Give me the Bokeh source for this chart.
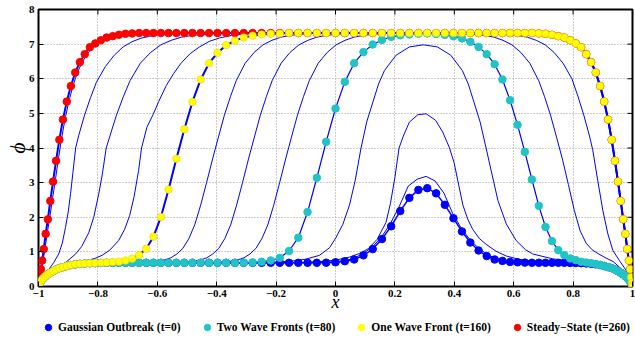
from bokeh.plotting import figure
from bokeh.layouts import column
from bokeh.models import Range1d, FixedTicker, Legend, LegendItem
from bokeh.embed import file_html
from bokeh.resources import INLINE

# ---------------- data ----------------
X_TICKS = [-1, -0.8, -0.6, -0.4, -0.2, 0, 0.2, 0.4, 0.6, 0.8, 1]
X_TICK_LABELS = ["\u22121", "\u22120.8", "\u22120.6", "\u22120.4", "\u22120.2", "0",
                 "0.2", "0.4", "0.6", "0.8", "1"]
Y_TICKS = [0, 1, 2, 3, 4, 5, 6, 7, 8]

# collocation nodes (marker positions)
X_NODES = [-1.0, -0.9995, -0.998, -0.9956, -0.9921, -0.9877, -0.9823, -0.9759, -0.9686, -0.9603,
           -0.9511, -0.9409, -0.9298, -0.9178, -0.9048, -0.891, -0.8763, -0.8607, -0.8443, -0.8271,
           -0.809, -0.7902, -0.7705, -0.7501, -0.729, -0.7071, -0.6846, -0.6613, -0.6374, -0.6129,
           -0.5878, -0.5621, -0.5358, -0.509, -0.4818, -0.454, -0.4258, -0.3972, -0.3681, -0.3387,
           -0.309, -0.279, -0.2487, -0.2181, -0.1874, -0.1564, -0.1253, -0.0941, -0.0628, -0.0314,
           0.0,
           0.0314, 0.0628, 0.0941, 0.1253, 0.1564, 0.1874, 0.2181, 0.2487, 0.279, 0.309,
           0.3387, 0.3681, 0.3972, 0.4258, 0.454, 0.4818, 0.509, 0.5358, 0.5621, 0.5878,
           0.6129, 0.6374, 0.6613, 0.6846, 0.7071, 0.729, 0.7501, 0.7705, 0.7902, 0.809,
           0.8271, 0.8443, 0.8607, 0.8763, 0.891, 0.9048, 0.9178, 0.9298, 0.9409, 0.9511,
           0.9603, 0.9686, 0.9759, 0.9823, 0.9877, 0.9921, 0.9956, 0.998, 0.9995, 1.0]

PHI_T0 = [0, 0.03, 0.07, 0.10, 0.15, 0.20, 0.25, 0.30, 0.35, 0.40,
          0.44, 0.49, 0.53, 0.56, 0.59, 0.62, 0.64, 0.655, 0.665, 0.672,
          0.677, 0.68, 0.685, 0.685, 0.685, 0.685, 0.685, 0.685, 0.685, 0.685,
          0.685, 0.685, 0.685, 0.685, 0.685, 0.685, 0.685, 0.685, 0.685, 0.685,
          0.685, 0.685, 0.685, 0.685, 0.685, 0.685, 0.685, 0.685, 0.685, 0.687,
          0.70,
          0.73, 0.78, 0.90, 1.08, 1.37, 1.74, 2.18, 2.56, 2.79, 2.84,
          2.69, 2.36, 1.97, 1.59, 1.27, 1.04, 0.88, 0.78, 0.74, 0.71,
          0.70, 0.69, 0.685, 0.685, 0.685, 0.685, 0.685, 0.685, 0.68, 0.677,
          0.672, 0.665, 0.655, 0.64, 0.62, 0.59, 0.56, 0.53, 0.49, 0.44,
          0.40, 0.35, 0.30, 0.25, 0.20, 0.15, 0.10, 0.07, 0.03, 0]

PHI_T80 = [0, 0.03, 0.07, 0.10, 0.15, 0.20, 0.25, 0.30, 0.35, 0.40,
           0.44, 0.49, 0.53, 0.56, 0.59, 0.62, 0.64, 0.655, 0.665, 0.672,
           0.677, 0.68, 0.685, 0.685, 0.685, 0.685, 0.685, 0.685, 0.685, 0.685,
           0.685, 0.685, 0.685, 0.685, 0.685, 0.685, 0.685, 0.685, 0.685, 0.685,
           0.687, 0.695, 0.713, 0.752, 0.829, 1.025, 1.41, 2.15, 3.14, 4.18,
           5.14,
           5.91, 6.45, 6.77, 6.99, 7.12, 7.21, 7.255, 7.28, 7.30, 7.31,
           7.295, 7.267, 7.228, 7.165, 7.067, 6.92, 6.71, 6.42, 5.98, 5.38,
           4.67, 3.89, 3.09, 2.33, 1.72, 1.31, 1.05, 0.905, 0.81, 0.762,
           0.716, 0.694, 0.674, 0.65, 0.625, 0.595, 0.56, 0.53, 0.49, 0.44,
           0.40, 0.35, 0.30, 0.25, 0.20, 0.15, 0.10, 0.07, 0.03, 0]

PHI_T160 = [0, 0.03, 0.07, 0.10, 0.15, 0.20, 0.25, 0.30, 0.35, 0.40,
            0.44, 0.49, 0.53, 0.56, 0.59, 0.62, 0.64, 0.655, 0.665, 0.675,
            0.68, 0.685, 0.693, 0.706, 0.718, 0.752, 0.805, 0.911, 1.09, 1.44,
            2.01, 2.80, 3.69, 4.54, 5.33, 5.98, 6.45, 6.75, 6.97, 7.10,
            7.19, 7.245, 7.28, 7.30, 7.31, 7.32, 7.32, 7.32, 7.32, 7.32,
            7.32,
            7.32, 7.32, 7.32, 7.32, 7.32, 7.32, 7.32, 7.32, 7.32, 7.32,
            7.32, 7.32, 7.32, 7.32, 7.32, 7.32, 7.32, 7.32, 7.32, 7.32,
            7.32, 7.32, 7.32, 7.31, 7.30, 7.27, 7.23, 7.19, 7.11, 7.02,
            6.91, 6.71, 6.48, 6.18, 5.79, 5.34, 4.82, 4.24, 3.63, 3.03,
            2.47, 1.94, 1.52, 1.08, 0.75, 0.5, 0.27, 0.1, 0.03, 0]

PHI_T260 = [0, 0.03, 0.1, 0.27, 0.5, 0.75, 1.08, 1.52, 1.94, 2.47,
            3.03, 3.63, 4.24, 4.82, 5.34, 5.79, 6.18, 6.48, 6.71, 6.91,
            7.02, 7.11, 7.19, 7.23, 7.27, 7.30, 7.31, 7.32, 7.32, 7.32,
            7.32, 7.32, 7.32, 7.32, 7.32, 7.32, 7.32, 7.32, 7.32, 7.32,
            7.32, 7.32, 7.32, 7.32, 7.32, 7.32, 7.32, 7.32, 7.32, 7.32,
            7.32,
            7.32, 7.32, 7.32, 7.32, 7.32, 7.32, 7.32, 7.32, 7.32, 7.32,
            7.32, 7.32, 7.32, 7.32, 7.32, 7.32, 7.32, 7.32, 7.32, 7.32,
            7.32, 7.32, 7.32, 7.31, 7.30, 7.27, 7.23, 7.19, 7.11, 7.02,
            6.91, 6.71, 6.48, 6.18, 5.79, 5.34, 4.82, 4.24, 3.63, 3.03,
            2.47, 1.94, 1.52, 1.08, 0.75, 0.5, 0.27, 0.1, 0.03, 0]

# shared pieces of the intermediate-time curves
LEFT_BASE_X = [-1.0, -0.995, -0.988, -0.976, -0.96, -0.94, -0.91, -0.87, -0.82, -0.75]
LEFT_BASE_Y = [0, 0.11, 0.2, 0.3, 0.4, 0.49, 0.58, 0.645, 0.674, 0.685]
RIGHT_BASE_X = [0.75, 0.82, 0.87, 0.91, 0.94, 0.96, 0.976, 0.988, 0.995, 1.0]
RIGHT_BASE_Y = [0.685, 0.674, 0.645, 0.58, 0.49, 0.4, 0.3, 0.2, 0.11, 0]
RIGHT_STEADY_X = [0.66, 0.7071, 0.729, 0.7501, 0.7705, 0.7902, 0.809, 0.8271, 0.8443, 0.8607,
                  0.8763, 0.891, 0.9048, 0.9178, 0.9298, 0.9409, 0.9511, 0.9603, 0.9686, 0.9759,
                  0.9823, 0.9877, 0.9921, 0.9956, 0.998, 1.0]
RIGHT_STEADY_Y = [7.32, 7.30, 7.27, 7.23, 7.19, 7.11, 7.02, 6.91, 6.71, 6.48,
                  6.18, 5.79, 5.34, 4.82, 4.24, 3.63, 3.03, 2.47, 1.94, 1.52,
                  1.08, 0.75, 0.5, 0.27, 0.1, 0]

T20_X = [-0.3, -0.1, 0.0, 0.05, 0.09, 0.125, 0.155, 0.185, 0.215, 0.245, 0.275,
         0.305, 0.335, 0.365, 0.395, 0.425, 0.455, 0.485, 0.52, 0.56, 0.6, 0.7]
T20_Y = [0.685, 0.686, 0.71, 0.78, 0.93, 1.15, 1.43, 1.82, 2.32, 2.9, 3.1,
         3.18, 3.05, 2.7, 2.1, 1.66, 1.33, 1.08, 0.88, 0.77, 0.72, 0.69]

T40_X = [-0.4, -0.15, -0.05, 0.0, 0.047, 0.08, 0.11, 0.14, 0.17, 0.185, 0.2, 0.214, 0.23, 0.249,
         0.277, 0.305, 0.337, 0.361, 0.384, 0.4, 0.412, 0.429, 0.445, 0.462, 0.485, 0.507, 0.54,
         0.575, 0.62, 0.67]
T40_Y = [0.685, 0.69, 0.72, 0.76, 0.85, 0.95, 1.09, 1.36, 1.85, 2.4, 3.15, 4.0, 4.38, 4.75,
         4.96, 4.99, 4.8, 4.46, 4.0, 3.55, 3.05, 2.35, 1.95, 1.65, 1.38, 1.22, 1.02,
         0.88, 0.78, 0.73]

T60_X = [-0.45, -0.25, -0.15, -0.1, -0.054, -0.02, 0.002, 0.025, 0.047, 0.066, 0.086, 0.105,
         0.126, 0.145, 0.165, 0.204, 0.249, 0.296, 0.343, 0.388, 0.427, 0.447, 0.466, 0.487,
         0.507, 0.524, 0.547, 0.575, 0.608, 0.64, 0.664, 0.731, 0.8, 0.85, 0.89, 0.92, 0.945,
         0.965, 0.98, 0.99, 0.996, 1.0]
T60_Y = [0.685, 0.69, 0.73, 0.79, 0.9, 1.12, 1.42, 1.8, 2.35, 3.05, 4.0, 4.75,
         5.33, 5.85, 6.24, 6.68, 6.92, 6.98, 6.92, 6.68, 6.24, 5.85, 5.33, 4.75,
         4.0, 3.35, 2.48, 1.81, 1.33, 1.06, 0.94, 0.8, 0.72, 0.665, 0.615, 0.57, 0.48,
         0.38, 0.28, 0.18, 0.1, 0]

T100_X = [-0.55, -0.408, -0.358, -0.328, -0.308, -0.288, -0.268, -0.248, -0.228, -0.208,
          -0.188, -0.168, -0.148, -0.128, -0.108, -0.088, -0.058, -0.028, 0.002, 0.032,
          0.062, 0.092, 0.122, 0.152, 0.192, 0.404, 0.444, 0.474, 0.504, 0.534,
          0.564, 0.594, 0.624, 0.654, 0.684, 0.704, 0.724, 0.744, 0.764, 0.784,
          0.804, 0.824, 0.844, 0.864, 0.884, 0.911, 0.935, 0.956, 0.972, 0.985,
          0.994, 1.0]
T100_Y = [0.685, 0.69, 0.72, 0.77, 0.83, 0.94, 1.10, 1.38, 1.78, 2.35,
          3.0, 3.68, 4.32, 4.95, 5.48, 5.95, 6.45, 6.76, 6.98, 7.11,
          7.20, 7.25, 7.28, 7.30, 7.32, 7.32, 7.30, 7.28, 7.25, 7.20,
          7.11, 6.98, 6.76, 6.45, 5.95, 5.48, 4.95, 4.32, 3.68, 2.95,
          2.2, 1.6, 1.25, 1.06, 0.95, 0.82, 0.72, 0.56, 0.4, 0.25,
          0.1, 0]

T120_X = [-0.6, -0.533, -0.483, -0.453, -0.433, -0.413, -0.393, -0.373, -0.353, -0.333,
          -0.313, -0.293, -0.273, -0.253, -0.233, -0.213, -0.183, -0.153, -0.123, -0.093,
          -0.063, -0.033, -0.003, 0.027, 0.067, 0.516, 0.556, 0.586, 0.616, 0.646,
          0.676, 0.706, 0.736, 0.766, 0.796, 0.816, 0.836, 0.856, 0.866, 0.883,
          0.9, 0.917, 0.934, 0.956, 0.979, 0.992, 1.0]
T120_Y = [0.685, 0.69, 0.72, 0.77, 0.83, 0.94, 1.10, 1.38, 1.78, 2.35,
          3.0, 3.68, 4.32, 4.95, 5.48, 5.95, 6.45, 6.76, 6.98, 7.11,
          7.20, 7.25, 7.28, 7.30, 7.32, 7.32, 7.30, 7.28, 7.25, 7.20,
          7.11, 6.98, 6.76, 6.45, 6.0, 5.5, 4.95, 4.32, 3.95, 3.06,
          2.2, 1.52, 1.04, 0.75, 0.46, 0.15, 0]

T140_X = [-0.704, -0.654, -0.604, -0.574, -0.554, -0.534, -0.514, -0.494, -0.474, -0.454,
          -0.434, -0.414, -0.394, -0.374, -0.354, -0.334, -0.304, -0.274, -0.244, -0.214,
          -0.184, -0.154, -0.124, -0.094, -0.054]
T140_Y = [0.685, 0.69, 0.72, 0.77, 0.83, 0.94, 1.10, 1.38, 1.78, 2.35,
          3.0, 3.68, 4.32, 4.95, 5.48, 5.95, 6.45, 6.76, 6.98, 7.11,
          7.20, 7.25, 7.28, 7.30, 7.32]

T180_X = [-1.0, -0.995, -0.985, -0.97, -0.954, -0.93, -0.898, -0.87, -0.842, -0.81,
          -0.786, -0.76, -0.73, -0.71, -0.693, -0.678, -0.663, -0.653, -0.635, -0.615,
          -0.595, -0.57, -0.545, -0.52, -0.49, -0.458, -0.425, -0.39, -0.35, -0.31,
          -0.26, -0.2]
T180_Y = [0, 0.12, 0.25, 0.36, 0.43, 0.52, 0.61, 0.67, 0.74, 0.81,
          0.9, 1.05, 1.33, 1.65, 2.05, 2.6, 3.35, 4.0, 4.6, 4.95,
          5.35, 5.8, 6.15, 6.45, 6.72, 6.92, 7.08, 7.18, 7.25, 7.29,
          7.31, 7.32]

T200_X = [-1.0, -0.993, -0.985, -0.976, -0.955, -0.932, -0.905, -0.875, -0.855, -0.831,
          -0.814, -0.797, -0.785, -0.772, -0.7605, -0.7375, -0.7145, -0.6915, -0.657, -0.6225,
          -0.588, -0.5535, -0.519, -0.4845, -0.45, -0.4155, -0.37]
T200_Y = [0, 0.1, 0.2, 0.28, 0.42, 0.56, 0.72, 0.94, 1.15, 1.55,
          2.0, 2.68, 3.25, 4.0, 4.32, 4.95, 5.48, 5.95, 6.45, 6.76,
          6.98, 7.11, 7.20, 7.25, 7.28, 7.30, 7.32]

T220_X = [-1.0, -0.993, -0.985, -0.975, -0.965, -0.948, -0.932, -0.92, -0.909, -0.9,
          -0.892, -0.884, -0.875, -0.865, -0.845, -0.825, -0.805, -0.775, -0.745, -0.715,
          -0.685, -0.655, -0.625, -0.595, -0.565, -0.515, -0.45]
T220_Y = [0, 0.12, 0.25, 0.38, 0.5, 0.7, 0.94, 1.25, 1.71, 2.15,
          2.68, 3.3, 4.0, 4.35, 4.95, 5.45, 5.9, 6.35, 6.68, 6.92,
          7.07, 7.17, 7.23, 7.27, 7.29, 7.31, 7.32]

T240_X = [-1.0, -0.997, -0.993, -0.989, -0.984, -0.978, -0.971, -0.963, -0.954, -0.944,
          -0.934, -0.923, -0.911, -0.898, -0.884, -0.869, -0.853, -0.836, -0.819, -0.8,
          -0.782, -0.762, -0.742, -0.72, -0.7, -0.66]
T240_Y = [0, 0.1, 0.3, 0.52, 0.78, 1.1, 1.52, 1.94, 2.47, 3.03,
          3.63, 4.24, 4.82, 5.34, 5.79, 6.18, 6.48, 6.71, 6.91, 7.02,
          7.11, 7.19, 7.23, 7.27, 7.30, 7.32]

LEGEND_LABELS = ["Gaussian Outbreak (t=0)", "Two Wave Fronts (t=80)",
                 "One Wave Front (t=160)", "Steady\u2212State (t=260)"]
SERIES_COLORS = ["#0000ff", "#20c4c4", "#ffff00", "#ff0000"]
SERIES_DATA = [PHI_T0, PHI_T80, PHI_T160, PHI_T260]

# assembled curves (concatenation of the read pieces)
THIN_CURVES = [
    (LEFT_BASE_X + T20_X + RIGHT_BASE_X, LEFT_BASE_Y + T20_Y + RIGHT_BASE_Y),
    (LEFT_BASE_X + T40_X + RIGHT_BASE_X, LEFT_BASE_Y + T40_Y + RIGHT_BASE_Y),
    (LEFT_BASE_X + T60_X, LEFT_BASE_Y + T60_Y),
    (LEFT_BASE_X + T100_X, LEFT_BASE_Y + T100_Y),
    (LEFT_BASE_X + T120_X, LEFT_BASE_Y + T120_Y),
    (LEFT_BASE_X + T140_X + RIGHT_STEADY_X, LEFT_BASE_Y + T140_Y + RIGHT_STEADY_Y),
    (T180_X + RIGHT_STEADY_X, T180_Y + RIGHT_STEADY_Y),
    (T200_X + RIGHT_STEADY_X, T200_Y + RIGHT_STEADY_Y),
    (T220_X + RIGHT_STEADY_X, T220_Y + RIGHT_STEADY_Y),
    (T240_X + RIGHT_STEADY_X, T240_Y + RIGHT_STEADY_Y),
]

# ---------------- main figure ----------------
SERIF = "Liberation Serif"
TICK_LEN_X = 0.017   # inward tick length on right edge (data units)
TICK_LEN_Y = 0.145   # inward tick length on top edge (data units)
MARKER = 7.5

p = figure(width=635, height=316, output_backend="svg", toolbar_location=None,
           x_range=Range1d(-1, 1), y_range=Range1d(0, 8),
           min_border_left=38, min_border_right=3, min_border_top=9, min_border_bottom=30)
p.background_fill_color = "white"
p.border_fill_color = "white"
p.outline_line_color = "black"
p.outline_line_width = 2

xb = p.below[0]
yl = p.left[0]
xb.ticker = FixedTicker(ticks=X_TICKS)
xb.major_label_overrides = {t: s for t, s in zip(X_TICKS, X_TICK_LABELS)}
yl.ticker = FixedTicker(ticks=Y_TICKS)
for ax in (xb, yl):
    ax.major_label_text_font = SERIF
    ax.major_label_text_font_style = "bold"
    ax.major_label_text_font_size = "11px"
    ax.major_label_text_color = "black"
    ax.major_tick_in = 5
    ax.major_tick_out = 0
    ax.major_tick_line_color = "black"
    ax.minor_tick_line_color = None
    ax.axis_line_color = None
    ax.axis_label_text_font = SERIF
    ax.axis_label_text_font_style = "italic"
    ax.axis_label_text_color = "black"
xb.major_label_standoff = 3
yl.major_label_standoff = 4
xb.axis_label = "x"
xb.axis_label_text_font_size = "18px"
xb.axis_label_standoff = -8
yl.axis_label = "\u03d5"
yl.axis_label_text_font_size = "22px"
yl.axis_label_standoff = -4

p.xgrid.grid_line_color = "#9a9a9a"
p.xgrid.grid_line_dash = "1 2"
p.ygrid.grid_line_color = "#9a9a9a"
p.ygrid.grid_line_dash = "1 2"

# inward ticks on the top and right frame edges
p.segment(x0=X_TICKS, y0=[8] * len(X_TICKS), x1=X_TICKS, y1=[8 - TICK_LEN_Y] * len(X_TICKS),
          line_color="black", line_width=1)
p.segment(x0=[1] * len(Y_TICKS), y0=Y_TICKS, x1=[1 - TICK_LEN_X] * len(Y_TICKS), y1=Y_TICKS,
          line_color="black", line_width=1)

BLUE = "#0000ff"
for cx, cy in THIN_CURVES:
    p.line(cx, cy, line_color=BLUE, line_width=1)

p.line(X_NODES, PHI_T0, line_color=BLUE, line_width=1.5)
p.line(X_NODES, PHI_T80, line_color=BLUE, line_width=1.2)
p.line(X_NODES, PHI_T160, line_color=BLUE, line_width=2)
p.line(X_NODES, PHI_T260, line_color=BLUE, line_width=2)

p.scatter(X_NODES, PHI_T260, size=MARKER, fill_color=SERIES_COLORS[3], line_color=SERIES_COLORS[3])
p.scatter(X_NODES, PHI_T0, size=MARKER, fill_color=SERIES_COLORS[0], line_color=SERIES_COLORS[0])
p.scatter(X_NODES, PHI_T80, size=MARKER, fill_color=SERIES_COLORS[1], line_color=SERIES_COLORS[1])
p.scatter(X_NODES, PHI_T160, size=MARKER, fill_color=SERIES_COLORS[2], line_color="#f0d000",
          line_width=0.6)

# ---------------- legend strip below ----------------
# the strip's own ranges lie outside the data, so only the legend glyphs show
pl = figure(width=635, height=23, output_backend="svg", toolbar_location=None,
            x_range=Range1d(10, 11), y_range=Range1d(10, 11),
            x_axis_type=None, y_axis_type=None,
            min_border_left=38, min_border_right=3, min_border_top=0, min_border_bottom=0)
pl.outline_line_color = None
pl.xgrid.visible = False
pl.ygrid.visible = False
items = []
for lab, col, ys in zip(LEGEND_LABELS, SERIES_COLORS, SERIES_DATA):
    r = pl.scatter(x=X_NODES, y=ys, size=7, fill_color=col, line_color=col)
    items.append(LegendItem(label=lab, renderers=[r]))
legend = Legend(items=items, orientation="horizontal", location=(1, 4),
                label_text_font=SERIF, label_text_font_style="bold",
                label_text_font_size="11.5px", label_text_color="black",
                glyph_width=18, glyph_height=16, label_standoff=1, spacing=17,
                padding=0, margin=0, border_line_color=None, background_fill_alpha=0)
pl.add_layout(legend, "center")

layout = column(p, pl, spacing=0)
open("out.html", "w").write(file_html(layout, INLINE))
